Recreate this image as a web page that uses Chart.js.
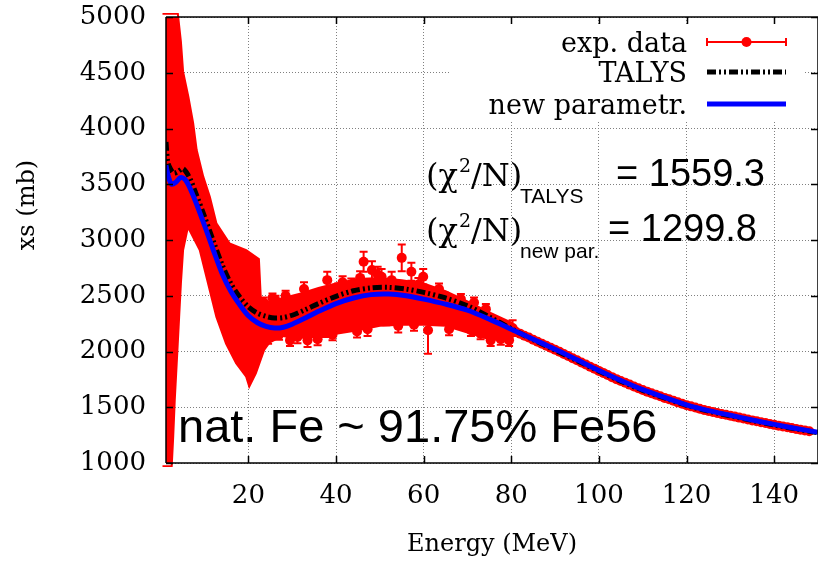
<!DOCTYPE html>
<html>
<head>
<meta charset="utf-8">
<script src="https://cdn.jsdelivr.net/npm/chart.js@4.4.0/dist/chart.umd.min.js"></script>
<style>
html, body { margin:0; padding:0; background:#fff; }
#wrap { width:818px; height:561px; overflow:hidden; }
canvas { display:block; }
</style>
</head>
<body>
<div id="wrap"><canvas id="cvg" width="823" height="561"></canvas></div>
<script>
// axis ticks
var energyTicks = [20, 40, 60, 80, 100, 120, 140];
var xsTicks = [1000, 1500, 2000, 2500, 3000, 3500, 4000, 4500, 5000];

// TALYS calculation
var talysE  = [1.2, 1.6, 2.2, 3, 4, 5, 5.8, 6.8, 8, 10, 12, 14, 16, 18, 20, 22, 24, 26, 28, 30, 33, 36, 40, 44, 48, 52, 56, 60, 65, 70, 75, 80, 85, 90, 95, 100, 105, 110, 115, 120, 125, 130, 135, 140, 145, 150];
var talysXs = [3880, 3700, 3640, 3600, 3615, 3640, 3610, 3540, 3420, 3210, 2990, 2780, 2610, 2490, 2400, 2345, 2315, 2300, 2305, 2325, 2375, 2430, 2495, 2545, 2570, 2575, 2560, 2530, 2480, 2410, 2310, 2205, 2105, 2012, 1918, 1824, 1734, 1652, 1583, 1517, 1465, 1423, 1381, 1341, 1305, 1270];

// new parametrization
var newE  = [1.2, 1.8, 2.5, 3.5, 4.5, 5.5, 6.5, 8, 10, 12, 14, 16, 18, 20, 22, 24, 26, 28, 30, 33, 36, 40, 44, 48, 52, 56, 60, 65, 70, 75, 80, 85, 90, 95, 100, 105, 110, 115, 120, 125, 130, 135, 140, 145, 150];
var newXs = [3670, 3560, 3500, 3520, 3560, 3545, 3480, 3340, 3130, 2910, 2700, 2540, 2420, 2320, 2260, 2225, 2210, 2218, 2245, 2300, 2360, 2430, 2480, 2510, 2515, 2500, 2470, 2425, 2370, 2290, 2200, 2110, 2020, 1925, 1830, 1740, 1658, 1588, 1522, 1470, 1428, 1386, 1346, 1310, 1275];

// exp. data, dense part below 80 MeV: outline of the overlapping error bars
var bandE  = [0.4, 3.9, 4.6, 5.1, 6.3, 7.4, 8.2, 9.7, 11.2, 12.7, 15.7, 19.5, 22.4, 22.9, 25, 28, 32, 36, 40, 45, 50, 55, 60, 65, 70, 75, 80, 81,
              80, 75, 70, 65, 60, 55, 50, 45, 40, 35, 30, 27.8, 24.8, 23.6, 21.7, 20.2, 19.5, 17.2, 14.9, 12.7, 10.8, 8.9, 6.2, 5.1, 4.6, 4.2, 3.8, 3.2, 2.85, 2.5, 0.4];
var bandXs = [5030, 5030, 4780, 4510, 4285, 4047, 3807, 3568, 3388, 3150, 2970, 2910, 2830, 2430, 2450, 2480, 2520, 2570, 2610, 2650, 2660, 2640, 2610, 2540, 2450, 2350, 2260, 2190,
              2100, 2110, 2170, 2230, 2240, 2240, 2230, 2190, 2160, 2130, 2120, 2140, 2080, 2015, 1805, 1685, 1775, 1895, 2070, 2310, 2610, 2910, 3117, 2910, 2610, 2310, 2010, 1565, 1240, 970, 970];

// exp. data, single points 23-80 MeV
var expE   = [23.5, 24.5, 25.5, 26.2, 27.0, 28.5, 29.5, 30.5, 31.2, 32.7, 33.5, 34.9, 35.8, 36.2, 37.6, 38.0, 39.2, 40.5, 41.5, 42.1, 43.5, 44.8, 45.5, 46.3, 47.2, 48.2, 49.5, 50.4, 51.5,
              52.7, 53.4, 54.2, 55.0, 56.2, 57.2, 57.8, 58.8, 59.9, 61.0, 62.5, 63.5, 64.8, 65.8, 66.2, 67.5, 68.5, 69.7, 70.8, 71.5, 72.0, 73.0, 74.2, 75.3, 76.5, 77.6, 78.8, 79.5, 80.3];
var expXs  = [2440, 2120, 2480, 2460, 2150, 2500, 2100, 2430, 2130, 2560, 2100, 2220, 2110, 2500, 2190, 2640, 2150, 2560, 2620, 2270, 2600, 2180, 2660, 2805, 2200, 2730, 2690, 2670, 2290,
              2640, 2360, 2230, 2840, 2330, 2715, 2240, 2600, 2670, 2190, 2430, 2560, 2480, 2200, 2330, 2420, 2470, 2390, 2190, 2440, 2300, 2160, 2380, 2100, 2250, 2110, 2180, 2100, 2210];
var expErr = [45, 50, 40, 40, 45, 45, 50, 40, 55, 60, 60, 50, 55, 45, 60, 75, 50, 50, 55, 55, 55, 55, 60, 90, 60, 80, 70, 70, 55,
              75, 60, 60, 120, 60, 80, 55, 60, 70, 210, 60, 50, 50, 55, 55, 45, 45, 50, 50, 45, 45, 50, 45, 50, 45, 50, 45, 50, 70];

// exp. data above 80 MeV
var tailE   = [81, 82, 83, 84, 85, 86, 87, 88, 89, 90, 91, 92, 93, 94, 95, 96, 97, 98, 99, 100, 101, 102, 103, 104, 105, 106, 107, 108, 109, 110, 111, 112, 113, 114,
               115, 116, 117, 118, 119, 120, 121, 122, 123, 124, 125, 126, 127, 128, 129, 130, 131, 132, 133, 134, 135, 136, 137, 138, 139, 140, 141, 142, 143, 144, 145, 146, 147, 148];
var tailXs  = [2178, 2160, 2142, 2125, 2106, 2088, 2070, 2052, 2034, 2015, 1997, 1978, 1959, 1940, 1921, 1902, 1883, 1864, 1845, 1826, 1808, 1789, 1770, 1752, 1736, 1719, 1703, 1686, 1670, 1654, 1640, 1626, 1612, 1598,
               1584, 1571, 1558, 1544, 1531, 1518, 1508, 1497, 1487, 1476, 1466, 1457, 1449, 1440, 1432, 1424, 1416, 1407, 1399, 1390, 1382, 1374, 1366, 1358, 1350, 1342, 1335, 1327, 1320, 1313, 1306, 1299, 1292, 1285];
var tailErr = [15, 15, 15, 15, 15, 15, 15, 15, 15, 15, 15, 15, 15, 15, 15, 15, 15, 15, 15, 15, 15, 15, 15, 15, 15, 15, 15, 15, 15, 15, 15, 15, 15, 15,
               15, 15, 15, 15, 15, 15, 15, 15, 15, 15, 15, 15, 15, 15, 15, 15, 15, 15, 15, 15, 15, 15, 15, 15, 15, 15, 15, 15, 15, 15, 15, 15, 15, 15];

var RED = '#ff0000', BLUE = '#0000ff', BLACK = '#000000';
var TALYS_DASH = [9, 3, 2, 3, 2, 3];
var serif = 'DejaVu Serif';

function pairs(xs, ys) {
	var out = [];
	for (var i = 0; i < xs.length; i++) out.push({x: xs[i], y: ys[i]});
	return out;
}

// error bars of the single exp. points
var errorBars = {
	id: 'errorBars',
	beforeDatasetDraw: function(chart, args) {
		var ds = chart.data.datasets[args.index];
		if (!ds.errors) return;
		var ctx = chart.ctx, sx = chart.scales.x, sy = chart.scales.y;
		ctx.save();
		ctx.strokeStyle = ds.borderColor;
		ctx.lineWidth = 2;
		ctx.beginPath();
		for (var i = 0; i < ds.data.length; i++) {
			var px = sx.getPixelForValue(ds.data[i].x);
			var lo = sy.getPixelForValue(ds.data[i].y - ds.errors[i]);
			var hi = sy.getPixelForValue(ds.data[i].y + ds.errors[i]);
			ctx.moveTo(px, lo); ctx.lineTo(px, hi);
			ctx.moveTo(px - 4, lo); ctx.lineTo(px + 4, lo);
			ctx.moveTo(px - 4, hi); ctx.lineTo(px + 4, hi);
		}
		ctx.stroke();
		ctx.restore();
	}
};

// frame with inward tick marks, on top of the data
var frame = {
	id: 'frame',
	afterDatasetsDraw: function(chart) {
		var ctx = chart.ctx, a = chart.chartArea, sx = chart.scales.x, sy = chart.scales.y;
		ctx.save();
		ctx.strokeStyle = '#000';
		ctx.lineWidth = 1.5;
		ctx.beginPath();
		ctx.moveTo(a.left, a.top); ctx.lineTo(a.right, a.top);
		ctx.moveTo(a.left, a.bottom); ctx.lineTo(a.right, a.bottom);
		ctx.moveTo(a.left, a.top); ctx.lineTo(a.left, a.bottom);
		ctx.moveTo(a.right, a.top); ctx.lineTo(a.right, a.bottom);
		energyTicks.forEach(function(v) {
			var px = Math.round(sx.getPixelForValue(v)) + 0.5;
			ctx.moveTo(px, a.bottom); ctx.lineTo(px, a.bottom - 7);
			ctx.moveTo(px, a.top); ctx.lineTo(px, a.top + 7);
		});
		xsTicks.forEach(function(v) {
			var py = Math.round(sy.getPixelForValue(v)) + 0.5;
			ctx.moveTo(a.left, py); ctx.lineTo(a.left + 7, py);
			ctx.moveTo(a.right, py); ctx.lineTo(a.right - 7, py);
		});
		ctx.stroke();
		ctx.restore();
	}
};

// key in the upper right corner
var key = {
	id: 'key',
	beforeDatasetsDraw: function(chart) {
		var ctx = chart.ctx;
		ctx.save();
		ctx.fillStyle = '#fff';
		ctx.fillRect(450, 25, 355, 97);
		ctx.restore();
	},
	afterDatasetsDraw: function(chart) {
		var ctx = chart.ctx;
		var x0 = 707, x1 = 786, tx = 687;
		var rows = [42, 72, 104];
		var labels = ['exp. data', 'TALYS', 'new parametr.'];
		ctx.save();
		ctx.font = '27px "' + serif + '"';
		ctx.fillStyle = '#000';
		ctx.textAlign = 'right';
		ctx.textBaseline = 'alphabetic';
		for (var i = 0; i < 3; i++) ctx.fillText(labels[i], tx, rows[i] + 10);

		ctx.strokeStyle = RED; ctx.lineWidth = 2;
		ctx.beginPath();
		ctx.moveTo(x0, rows[0]); ctx.lineTo(x1, rows[0]);
		ctx.moveTo(x0, rows[0] - 4); ctx.lineTo(x0, rows[0] + 4);
		ctx.moveTo(x1, rows[0] - 4); ctx.lineTo(x1, rows[0] + 4);
		ctx.stroke();
		ctx.fillStyle = RED;
		ctx.beginPath(); ctx.arc((x0 + x1) / 2, rows[0], 5, 0, Math.PI * 2); ctx.fill();

		ctx.strokeStyle = BLACK; ctx.lineWidth = 5; ctx.setLineDash(TALYS_DASH);
		ctx.beginPath(); ctx.moveTo(x0, rows[1]); ctx.lineTo(x1, rows[1]); ctx.stroke();
		ctx.setLineDash([]);
		ctx.strokeStyle = BLUE; ctx.lineWidth = 5;
		ctx.beginPath(); ctx.moveTo(x0, rows[2]); ctx.lineTo(x1, rows[2]); ctx.stroke();
		ctx.restore();
	}
};

function chiLine(ctx, y, sub, value, valueX) {
	var x = 426;
	ctx.font = '32px "' + serif + '"';
	ctx.fillText('(\u03c7', x, y);
	x += ctx.measureText('(\u03c7').width + 1;
	ctx.font = '19px "' + serif + '"';
	ctx.fillText('2', x, y - 14);
	x += ctx.measureText('2').width;
	ctx.font = '32px "' + serif + '"';
	ctx.fillText('/N)', x, y);
	ctx.font = '21px "Liberation Sans"';
	ctx.fillText(sub, 520, y + 17);
	ctx.font = '38px "Liberation Sans"';
	ctx.fillText(value, valueX, y);
}

var notes = {
	id: 'notes',
	afterDatasetsDraw: function(chart) {
		var ctx = chart.ctx;
		ctx.save();
		ctx.fillStyle = '#000';
		ctx.textAlign = 'left';
		ctx.textBaseline = 'alphabetic';
		chiLine(ctx, 186, 'TALYS', '= 1559.3', 616);
		chiLine(ctx, 241, 'new par.', '= 1299.8', 608);
		ctx.font = '47px "Liberation Sans"';
		ctx.fillText('nat. Fe ~ 91.75% Fe56', 178, 442);
		// y axis title
		ctx.translate(28, 205);
		ctx.rotate(-Math.PI / 2);
		ctx.textAlign = 'center';
		ctx.textBaseline = 'middle';
		ctx.font = '24px "' + serif + '"';
		ctx.fillText('xs (mb)', 0, 0);
		ctx.restore();
	}
};

new Chart(document.getElementById('cvg').getContext('2d'), {
	type: 'scatter',
	data: {
		datasets: [
			{
				label: 'new parametr.',
				data: pairs(newE, newXs),
				showLine: true, borderColor: BLUE, borderWidth: 5,
				pointRadius: 0, tension: 0.3, fill: false, order: 0
			},
			{
				label: 'TALYS',
				data: pairs(talysE, talysXs),
				showLine: true, borderColor: BLACK, borderWidth: 5, borderDash: TALYS_DASH,
				pointRadius: 0, tension: 0.3, fill: false, order: 1
			},
			{
				label: 'exp. data',
				data: pairs(expE.concat(tailE), expXs.concat(tailXs)),
				errors: expErr.concat(tailErr),
				showLine: false, borderColor: RED, backgroundColor: RED,
				pointRadius: 5, pointBorderWidth: 0, order: 2
			},
			{
				label: 'exp. data',
				data: pairs(bandE, bandXs),
				showLine: true, borderColor: RED, borderWidth: 2, backgroundColor: RED,
				pointRadius: 0, tension: 0, fill: 'shape', order: 3,
				clip: {left: 5, top: 4, right: 0, bottom: 4}
			}
		]
	},
	options: {
		responsive: false,
		animation: false,
		events: [],
		layout: {padding: {top: 17, right: 0, left: 0, bottom: 0}},
		plugins: {legend: {display: false}, tooltip: {enabled: false}},
		scales: {
			x: {
				type: 'linear', min: 1.2, max: 150,
				afterBuildTicks: function(s) { s.ticks = energyTicks.map(function(v) { return {value: v}; }); },
				afterFit: function(s) { s.height = 98; s.paddingLeft = 0; s.paddingRight = 0; },
				grid: {color: '#808080', lineWidth: 1, drawTicks: false},
				border: {display: false, dash: [1, 2]},
				ticks: {color: '#000', font: {family: serif, size: 26}, padding: 18, maxRotation: 0, autoSkip: false,
					callback: function(v) { return String(v); }},
				title: {display: true, text: 'Energy (MeV)', color: '#000', font: {family: serif, size: 24}, padding: {top: 0, bottom: 2}}
			},
			y: {
				type: 'linear', min: 1000, max: 5000,
				afterBuildTicks: function(s) { s.ticks = xsTicks.map(function(v) { return {value: v}; }); },
				afterFit: function(s) { s.width = 166; s.paddingTop = 0; s.paddingBottom = 0; },
				grid: {color: '#808080', lineWidth: 1, drawTicks: false},
				border: {display: false, dash: [1, 2]},
				ticks: {color: '#000', font: {family: serif, size: 26}, padding: 20,
					callback: function(v) { return String(v); }}
			}
		}
	},
	plugins: [errorBars, key, frame, notes]
});
</script>
</body>
</html>
